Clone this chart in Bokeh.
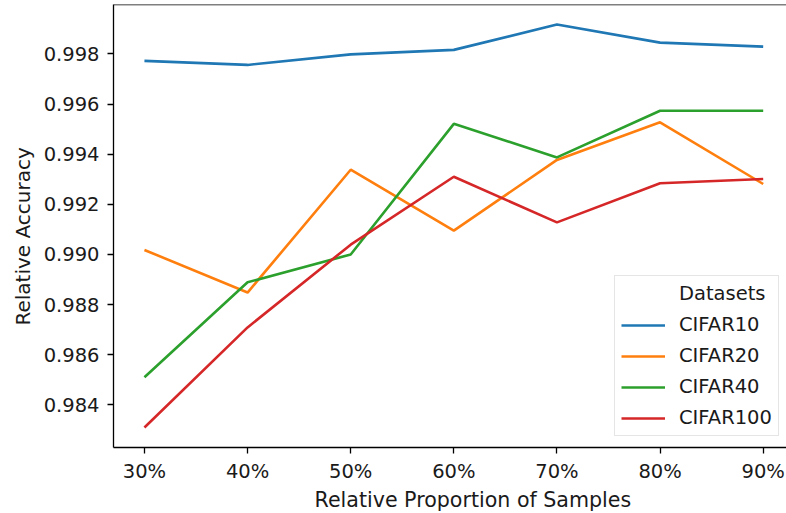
from bokeh.plotting import figure
from bokeh.models import (FixedTicker, NumeralTickFormatter, Range1d, Legend, LegendItem,
                          Title, Span)
from bokeh.embed import file_html
from bokeh.resources import INLINE

proportions = [0.3, 0.4, 0.5, 0.6, 0.7, 0.8, 0.9]
cifar10 = [0.99772, 0.99756, 0.99798, 0.99816, 0.99917, 0.99845, 0.99829]
cifar20 = [0.99018, 0.98848, 0.99338, 0.99095, 0.99377, 0.99527, 0.99281]
cifar40 = [0.98510, 0.98889, 0.99000, 0.99521, 0.99387, 0.99573, 0.99573]
cifar100 = [0.98310, 0.98709, 0.99039, 0.99310, 0.99128, 0.99284, 0.99301]
series_names = ["CIFAR10", "CIFAR20", "CIFAR40", "CIFAR100"]
series_values = [cifar10, cifar20, cifar40, cifar100]
colors = ["#1f77b4", "#ff7f0e", "#2ca02c", "#d62728"]
y_ticks = [0.984, 0.986, 0.988, 0.990, 0.992, 0.994, 0.996, 0.998]

FONT = "DejaVu Sans"
TICK_SIZE = "19.5px"
LABEL_SIZE = "20.6px"

p = figure(width=786, height=513, output_backend="svg", toolbar_location=None,
           x_range=Range1d(0.27, 0.9226), y_range=Range1d(0.9823, 0.99997),
           min_border_left=113, min_border_right=0, min_border_top=4, min_border_bottom=66)
p.background_fill_color = "white"
p.border_fill_color = "white"
p.outline_line_color = None
p.xgrid.visible = False
p.ygrid.visible = False

renderers = []
for name, vals, c in zip(series_names, series_values, colors):
    r = p.line(proportions, vals, line_color=c, line_width=2.6)
    renderers.append((name, r))

dummy = p.line(x=[], y=[], line_alpha=0)

for ax in (p.xaxis[0], p.yaxis[0]):
    ax.axis_line_color = "black"
    ax.axis_line_width = 1.3
    ax.major_tick_line_color = "black"
    ax.major_tick_line_width = 1.3
    ax.major_tick_out = 6
    ax.major_tick_in = 0
    ax.minor_tick_line_color = None
    ax.major_label_text_font = FONT
    ax.major_label_text_font_size = TICK_SIZE
    ax.major_label_text_color = "#1a1a1a"

p.xaxis.ticker = FixedTicker(ticks=proportions)
p.xaxis.formatter = NumeralTickFormatter(format="0%")
p.xaxis.major_label_standoff = 6
p.yaxis.ticker = FixedTicker(ticks=y_ticks)
p.yaxis.formatter = NumeralTickFormatter(format="0.000")
p.yaxis.major_label_standoff = 8

# top frame line
p.add_layout(Span(location=0.99997, dimension="width", line_color="black", line_width=1.3))

xtitle = Title(text="Relative Proportion of Samples", align="left", offset=201,
               text_font=FONT, text_font_size=LABEL_SIZE, text_font_style="normal",
               text_color="#1a1a1a", standoff=0)
p.add_layout(xtitle, "below")

ytitle = Title(text="Relative Accuracy", align="left", offset=122,
               text_font=FONT, text_font_size="20px", text_font_style="normal",
               text_color="#1a1a1a", standoff=11)
p.add_layout(ytitle, "left")

items = [LegendItem(label="Datasets", renderers=[dummy])]
items += [LegendItem(label=n, renderers=[r]) for n, r in renderers]
legend = Legend(items=items, location=(501, 11), margin=0, padding=6,
                spacing=8, label_height=20, glyph_height=20, glyph_width=44,
                label_standoff=14, label_text_font=FONT, label_text_font_size=TICK_SIZE,
                label_text_color="#1a1a1a", border_line_color="#cccccc", border_line_width=1,
                background_fill_color="white", background_fill_alpha=0.8)
p.add_layout(legend, "center")

open("out.html", "w").write(file_html(p, INLINE))
